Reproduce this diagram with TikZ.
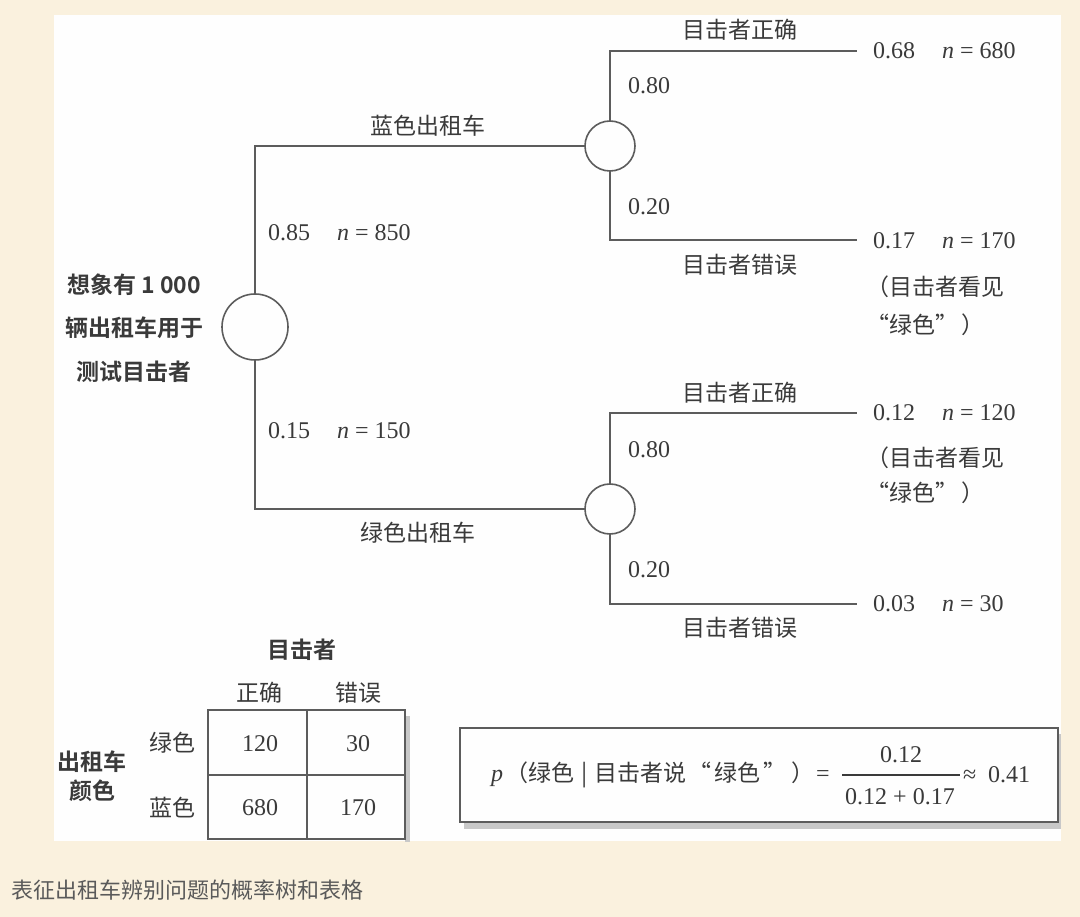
\documentclass[tikz,border=0pt]{standalone}
\usepackage{fontspec}
\setmainfont{Liberation Serif}
\newfontfamily\cjk{Noto Sans CJK SC}
\newfontfamily\cjkb{Noto Sans CJK SC Bold}
\definecolor{bgcream}{RGB}{250,241,222}
\definecolor{panelc}{RGB}{254,254,254}
\definecolor{ink}{RGB}{58,58,58}
\definecolor{linec}{RGB}{92,92,92}
\definecolor{shadowc}{RGB}{200,200,200}
\definecolor{capc}{RGB}{90,90,90}
\begin{document}
\begin{tikzpicture}[x=1pt,y=-1pt,
  every node/.style={inner sep=0pt, outer sep=0pt, text=ink},
  cn/.style={font=\fontsize{23}{26}\selectfont\cjk},
  cnb/.style={font=\fontsize{23}{26}\selectfont\cjkb},
  num/.style={font=\fontsize{24}{26}\selectfont},
  chance/.style={circle, draw=linec, line width=1.6pt, fill=panelc},
  br/.style={draw=linec, line width=1.8pt},
]
% background
\fill[bgcream] (0,0) rectangle (1080,917);
\fill[panelc] (54,15) rectangle (1061,841);
\useasboundingbox (0,0) rectangle (1080,917);

% tree chance nodes
\node[chance, minimum size=66pt] (root) at (255,327) {};
\node[chance, minimum size=50pt] (up) at (610,146) {};
\node[chance, minimum size=50pt] (dn) at (610,509) {};
\coordinate (e1) at (857,51);
\coordinate (e2) at (857,240);
\coordinate (e3) at (857,413);
\coordinate (e4) at (857,604);

\draw[br] (root) |- (up);
\draw[br] (root) |- (dn);
\draw[br] (up) |- (e1);
\draw[br] (up) |- (e2);
\draw[br] (dn) |- (e3);
\draw[br] (dn) |- (e4);

% root label
\node[cnb, align=center, font=\fontsize{23}{43.5}\selectfont\cjkb] (rootlbl) at (134,328)
  {想象有 1 000\\辆出租车用于\\测试目击者};

% first level labels
\node[cn] (blue) at (428,126) {蓝色出租车};
\node[cn] (green) at (418,533) {绿色出租车};
\node[num, anchor=west] (p85) at (268,233) {0.85};
\node[num, anchor=west] (n850) at (337,233) {\textit{n} = 850};
\node[num, anchor=west] (p15) at (268,431) {0.15};
\node[num, anchor=west] (n150) at (337,431) {\textit{n} = 150};

% upper subtree labels
\node[cn] (uc) at (740,30) {目击者正确};
\node[cn] (uw) at (740,265) {目击者错误};
\node[num, anchor=west] (u80) at (628,86) {0.80};
\node[num, anchor=west] (u20) at (628,207) {0.20};
\node[num, anchor=west] (o1p) at (873,51) {0.68};
\node[num, anchor=west] (o1n) at (942,51) {\textit{n} = 680};
\node[num, anchor=west] (o2p) at (873,241) {0.17};
\node[num, anchor=west] (o2n) at (942,241) {\textit{n} = 170};
\node[cn, anchor=west] (o2a) at (866,287) {（目击者看见};
\node[cn, anchor=west] (o2b) at (866,325) {“绿色”\hspace{4pt}）};

% lower subtree labels
\node[cn] (dc) at (740,393) {目击者正确};
\node[cn] (dw) at (740,628) {目击者错误};
\node[num, anchor=west] (d80) at (628,450) {0.80};
\node[num, anchor=west] (d20) at (628,570) {0.20};
\node[num, anchor=west] (o3p) at (873,413) {0.12};
\node[num, anchor=west] (o3n) at (942,413) {\textit{n} = 120};
\node[cn, anchor=west] (o3a) at (866,458) {（目击者看见};
\node[cn, anchor=west] (o3b) at (866,493) {“绿色”\hspace{4pt}）};
\node[num, anchor=west] (o4p) at (873,604) {0.03};
\node[num, anchor=west] (o4n) at (942,604) {\textit{n} = 30};

% table
\fill[shadowc] (405,716) rectangle (410,842);
\draw[linec, line width=1.6pt] (208,710) rectangle (405,839);
\draw[linec, line width=1.6pt] (307,710) -- (307,839);
\draw[linec, line width=1.6pt] (208,775) -- (405,775);
\node[cnb] (thead) at (302,650) {目击者};
\node[cn] (tc1) at (259,693) {正确};
\node[cn] (tc2) at (358,693) {错误};
\node[cn] (tr1) at (172,743) {绿色};
\node[cn] (tr2) at (172,808) {蓝色};
\node[cnb, align=center, font=\fontsize{23}{29}\selectfont\cjkb] (trow) at (92,776) {出租车\\颜色};
\node[num] (c11) at (260,744) {120};
\node[num] (c12) at (358,744) {30};
\node[num] (c21) at (260,808) {680};
\node[num] (c22) at (358,808) {170};

% formula box
\fill[shadowc] (464,734) rectangle (1061,829);
\draw[linec, line width=1.6pt, fill=panelc] (460,728) rectangle (1058,822);
\node[anchor=west] (flhs) at (491,775)
  {\fontsize{24}{26}\selectfont\textit{p}\hspace{2pt}{\cjk\fontsize{23}{26}\selectfont （绿色\hspace{8pt}|\hspace{6pt}目击者说\hspace{2pt}“\hspace{3pt}绿色\hspace{3pt}”\hspace{5pt}）}\hspace{2pt}=};
\node[num] (fnum) at (901,755) {0.12};
\node[num] (fden) at (900,797) {0.12 + 0.17};
\draw[ink, line width=1.2pt] (842,775) -- (960,775);
\node[num, anchor=west] (fres) at (963,775) {≈\hspace{12pt}0.41};

% caption
\node[anchor=west, text=capc, font=\fontsize{22}{24}\selectfont\cjk] (cap) at (12,890)
  {表征出租车辨别问题的概率树和表格};
\end{tikzpicture}
\end{document}
